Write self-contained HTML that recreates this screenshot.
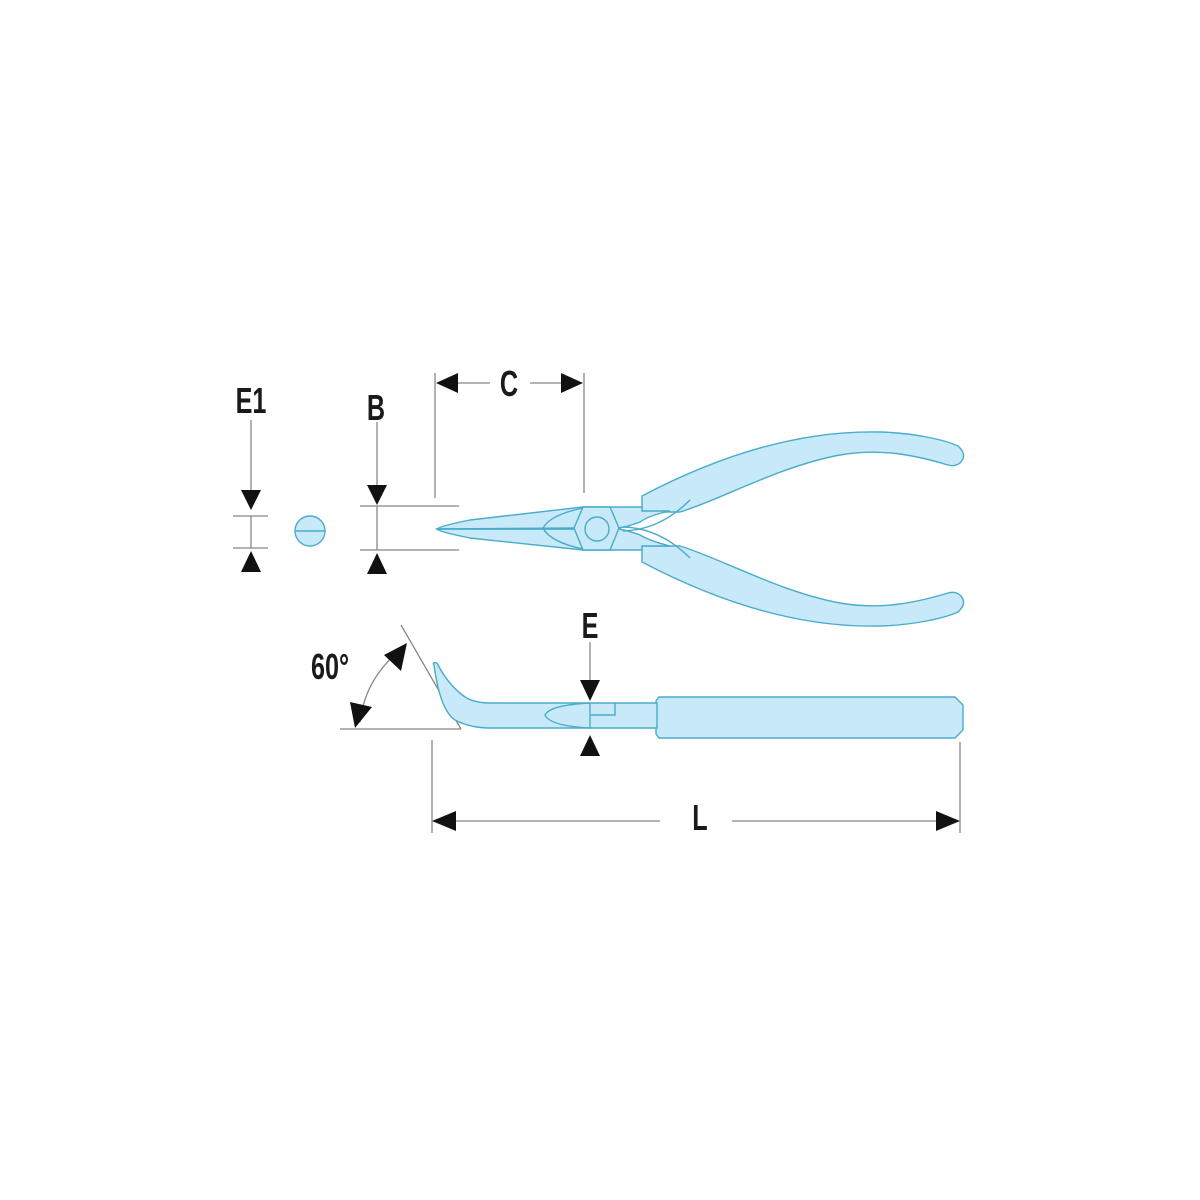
<!DOCTYPE html>
<html><head><style>
html,body{margin:0;padding:0;background:#fff}
svg{display:block}
text{font-family:"Liberation Sans Narrow","Liberation Sans",sans-serif;font-weight:bold;fill:#1a1a1a}
</style></head><body>
<svg width="1200" height="1200" viewBox="0 0 1200 1200" xmlns="http://www.w3.org/2000/svg">
<g stroke="#888" stroke-width="1.3" fill="none">
<line x1="251" y1="420" x2="251" y2="500"/>
<line x1="233" y1="516" x2="268" y2="516"/>
<line x1="233" y1="548" x2="268" y2="548"/>
<line x1="251" y1="516" x2="251" y2="548"/>
<line x1="377" y1="422" x2="377" y2="495"/>
<line x1="360" y1="506" x2="459" y2="506"/>
<line x1="360" y1="550" x2="459" y2="550"/>
<line x1="377" y1="506" x2="377" y2="550"/>
<line x1="435" y1="373" x2="435" y2="498"/>
<line x1="584" y1="373" x2="584" y2="493"/>
<line x1="450" y1="383" x2="490" y2="383"/>
<line x1="530" y1="383" x2="570" y2="383"/>
<line x1="590" y1="642" x2="590" y2="685"/>
<line x1="432" y1="740" x2="432" y2="833"/>
<line x1="960" y1="742" x2="960" y2="833"/>
<line x1="450" y1="821" x2="660" y2="821"/>
<line x1="732" y1="821" x2="945" y2="821"/>
<line x1="401" y1="625" x2="461" y2="729"/>
<line x1="340" y1="729" x2="461" y2="729"/>
<path d="M398,652 Q365,680 360,722"/>
</g>
<g fill="#111">
<polygon points="241,490 261,490 251,510"/>
<polygon points="241,572 261,572 251,551"/>
<polygon points="367,485 387,485 377,505"/>
<polygon points="367,574 387,574 377,553"/>
<polygon points="436,383 458,373 458,393"/>
<polygon points="583,383 561,373 561,393"/>
<polygon points="580,680 600,680 590,701"/>
<polygon points="580,756 600,756 590,735"/>
<polygon points="432,821 456,811 456,831"/>
<polygon points="960,821 936,811 936,831"/>
<polygon points="407,643 384,655 401,671"/>
<polygon points="355,728 350,702 372,707"/>
</g>
<g font-size="36" text-anchor="middle">
<text transform="translate(251,413) scale(0.7,1)">E1</text>
<text transform="translate(376,420) scale(0.7,1)">B</text>
<text transform="translate(509,396) scale(0.7,1)">C</text>
<text transform="translate(590,638) scale(0.7,1)">E</text>
<text transform="translate(700,830) scale(0.7,1)">L</text>
<text transform="translate(330,679) scale(0.7,1)">60°</text>
</g>
<g fill="#c8e9f8" stroke="#4aaccc" stroke-width="1.4">
<circle cx="310" cy="531" r="15"/>
<line x1="295" y1="531" x2="325" y2="531"/>
<path d="M642,496 C720,455 800,430 880,432 C915,433 945,440 958,446 Q968,455 960,463 Q955,467 948,465 C915,455 880,448 840,455 C780,466 720,500 680,512 L642,512 Z"/>
<path transform="translate(0,1058) scale(1,-1)" d="M642,496 C720,455 800,430 880,432 C915,433 945,440 958,446 Q968,455 960,463 Q955,467 948,465 C915,455 880,448 840,455 C780,466 720,500 680,512 L642,512 Z"/>
<path d="M437,529 Q440,526 470,520 L583,507 L642,507 L642,511 L670,511 Q650,515 640,522 Q630,526 619,528 L574,528 Z"/>
<path d="M437,529 Q440,532 470,538 L583,550 L642,550 L642,546 L670,546 Q650,541 640,535 Q630,531 619,529 L574,529 Z"/>
<path d="M574,528 L583,507 L610,507 L619,528 L610,550 L583,550 Z"/>
<circle cx="597" cy="529" r="12"/>
<path d="M623,531 Q660,530 690,500" fill="none"/>
<path d="M623,527 Q660,528 690,558" fill="none"/>
<path d="M583,508 Q550,515 543,528 Q550,542 583,549" fill="none"/>
<line x1="437" y1="529" x2="574" y2="529"/>
<path d="M659,697 L955,697 L963,705 L963,730 L955,738 L659,738 L656,734 L656,701 Z"/>
<path d="M434,665 Q432,662 437,663 Q448,685 465,697 Q475,703 490,703 L657,703 L657,728 L490,728 Q470,728 455,720 Q440,710 434,665 Z"/>
<path d="M590,703 Q550,705 545,715 Q550,726 590,728" fill="none"/>
<path d="M590,703 L590,728 M590,715 L615,715 L615,703" fill="none"/>
</g>
</svg>
</body></html>
